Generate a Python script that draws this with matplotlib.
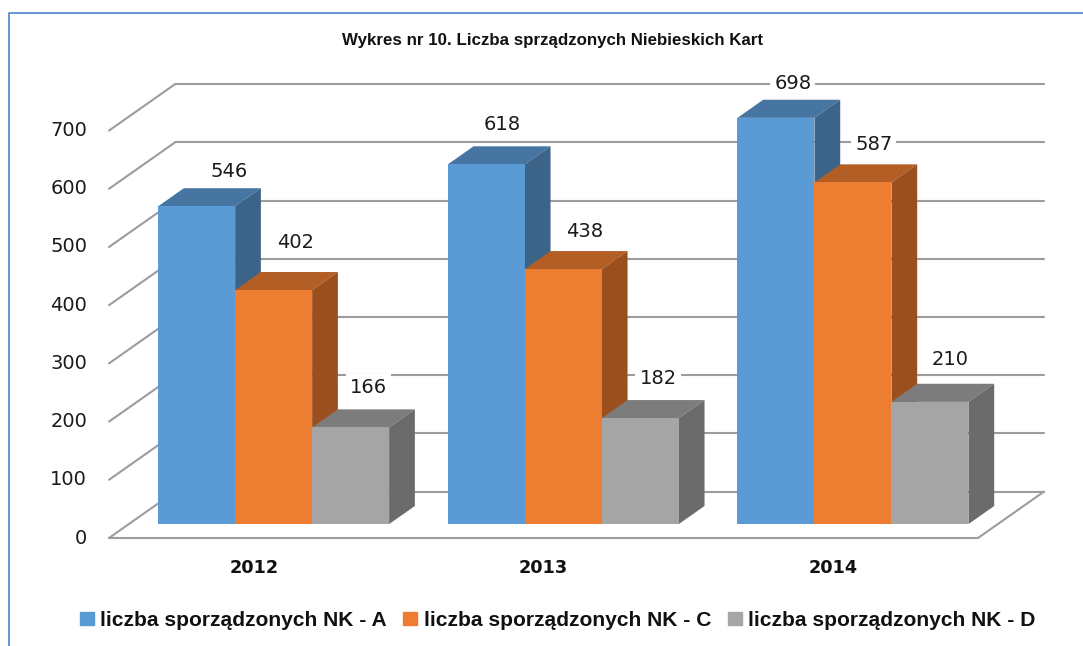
import matplotlib

matplotlib.use("Agg")
import matplotlib.pyplot as plt
import numpy as np
from matplotlib.lines import Line2D
from matplotlib.patches import Patch

title = "Wykres nr 10. Liczba sprządzonych Niebieskich Kart"
years = ["2012", "2013", "2014"]
series_names = ["liczba sporządzonych NK - A", "liczba sporządzonych NK - C", "liczba sporządzonych NK - D"]
values_a = [546, 618, 698]
values_c = [402, 438, 587]
values_d = [166, 182, 210]
y_ticks = [0, 100, 200, 300, 400, 500, 600, 700]

front_colors = ["#5B9BD5", "#ED7D31", "#A5A5A5"]
top_colors = ["#4575A0", "#B25E24", "#7C7C7C"]
side_colors = ["#3C6488", "#9A4F1D", "#6B6B6B"]
grid_color = "#9C9C9C"
frame_color = "#4A86C8"

# layout in pixels, all taken from the reference
W, H = 1083, 646
LEFT, RIGHT, ZERO_Y, PX_PER_100 = 109, 978, 538, 58.2
WALL_DX, WALL_DY = 66, 46.4

plt.rcParams["font.family"] = ["DejaVu Sans"]

fig = plt.figure(figsize=(W / 100, H / 100), dpi=100, facecolor="white")
plot_h = PX_PER_100 * 7
ax = fig.add_axes([LEFT / W, (H - ZERO_Y) / H, (RIGHT - LEFT) / W, plot_h / H])
ax.set_xlim(0, 3)
ax.set_ylim(0, 700)
for spine in ax.spines.values():
    spine.set_visible(False)
ax.patch.set_visible(False)

# depth of the fake 3d box, in data units
depth_x = WALL_DX / ((RIGHT - LEFT) / 3)
depth_y = WALL_DY / (PX_PER_100 / 100)
bar_start = 0.30
bar_end = 0.69
bar_w = 77 / ((RIGHT - LEFT) / 3)
gap = (1 - 3 * bar_w) / 2

grid_kw = dict(color=grid_color, lw=1.5, clip_on=False, zorder=1, solid_capstyle="round")
for t in y_ticks:
    ax.plot([0, depth_x], [t, t + depth_y], **grid_kw)
    ax.plot([depth_x, 3 + depth_x], [t + depth_y, t + depth_y], **grid_kw)
ax.plot([0, 3, 3 + depth_x], [0, 0, depth_y], **grid_kw)

series = [values_a, values_c, values_d]
# nudges of the value labels (px), the labels sit a bit unevenly in the original
label_nudge = [
    [(7, 17), (-10, 22), (-9, 16)],
    [(-4, 30), (-4, 20), (-5, 20)],
    [(-8, 22), (-8, 22), (-6, 24)],
]

for i in range(3):
    for s, vals in enumerate(series):
        x0 = i + gap + s * bar_w
        x1 = x0 + bar_w
        v = vals[i]
        y0 = bar_start * depth_y
        sx0 = bar_start * depth_x
        sx1 = bar_end * depth_x
        sy1 = bar_end * depth_y
        z = 3 + s + i * 3
        # front face is shifted into the box
        ax.bar(x0 + sx0, v, bar_w, bottom=y0, align="edge", color=front_colors[s], clip_on=False, zorder=z + 0.2)
        ax.fill(
            [x0 + sx0, x1 + sx0, x1 + sx1, x0 + sx1],
            [y0 + v, y0 + v, sy1 + v, sy1 + v],
            color=top_colors[s], lw=0, clip_on=False, zorder=z,
        )
        ax.fill(
            [x1 + sx0, x1 + sx1, x1 + sx1, x1 + sx0],
            [y0, sy1, sy1 + v, y0 + v],
            color=side_colors[s], lw=0, clip_on=False, zorder=z,
        )
        nx, ny = label_nudge[s][i]
        ax.annotate(
            str(v),
            xy=((x0 + x1) / 2 + sx1, sy1 + v),
            xytext=(nx, ny),
            textcoords="offset pixels",
            ha="center",
            va="center",
            fontsize=14,
            color="#1a1a1a",
            bbox=dict(facecolor="white", edgecolor="none", pad=3),
            annotation_clip=False,
            zorder=20,
        )

ax.set_yticks(y_ticks)
ax.set_yticklabels([str(t) for t in y_ticks], fontsize=14, color="#1a1a1a", va="center")
ax.set_xticks(np.arange(3) + 0.5)
ax.set_xticklabels(years, fontsize=12.7, fontweight="bold", color="#111111")
ax.tick_params(axis="y", length=0, pad=15.8)
ax.tick_params(axis="x", length=0, pad=15)

fig.text(
    552 / W, 1 - 40 / H, title, ha="center", va="center",
    fontsize=12.15, fontweight="bold", color="#111111", family="Liberation Sans",
)

handles = [Patch(color=c) for c in front_colors]
fig.legend(
    handles,
    series_names,
    loc="center",
    bbox_to_anchor=(557.5 / W, 1 - 620 / H),
    ncol=3,
    frameon=False,
    handlelength=0.67,
    handleheight=0.58,
    handletextpad=0.29,
    columnspacing=0.81,
    prop=dict(family="Liberation Sans", weight="bold", size=15.1),
    labelcolor="#111111",
)

# the blue frame is only visible on the top and left, it runs off the crop elsewhere
fig.add_artist(Line2D([8.5 / W, 8.5 / W, 1], [0, 1 - 12.5 / H, 1 - 12.5 / H], color=frame_color, lw=1.2))

fig.savefig("out.png", dpi=100)
plt.close(fig)
